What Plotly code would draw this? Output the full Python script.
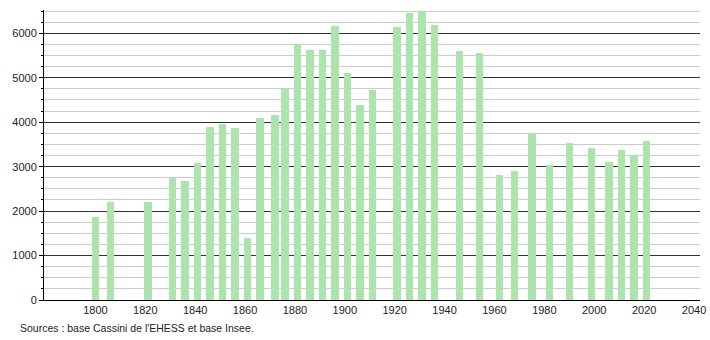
import plotly.graph_objects as go

years = [1800, 1806, 1821, 1831, 1836, 1841, 1846, 1851, 1856, 1861, 1866, 1872, 1876,
         1881, 1886, 1891, 1896, 1901, 1906, 1911, 1921, 1926, 1931, 1936, 1946, 1954,
         1962, 1968, 1975, 1982, 1990, 1999, 2006, 2011, 2016, 2021]
population = [1868, 2205, 2205, 2738, 2678, 3090, 3900, 3960, 3878, 1403, 4096, 4163, 4741,
              5761, 5626, 5626, 6166, 5116, 4388, 4733, 6151, 6451, 6505, 6196, 5604, 5559,
              2813, 2903, 3736, 3038, 3533, 3421, 3106, 3376, 3263, 3578]
x_ticks = [1800, 1820, 1840, 1860, 1880, 1900, 1920, 1940, 1960, 1980, 2000, 2020, 2040]
source_text = "Sources : base Cassini de l'EHESS et base Insee."

fig = go.Figure()
fig.add_trace(go.Bar(x=years, y=population, width=3.0,
                     marker=dict(color="#ade3ad", line=dict(width=0)),
                     hoverinfo="x+y"))

fig.update_layout(
    width=710, height=340,
    margin=dict(l=44, r=10, t=10, b=40, autoexpand=False),
    paper_bgcolor="white", plot_bgcolor="white",
    font=dict(family="Liberation Sans, Arial, sans-serif", size=11, color="#222"),
    showlegend=False,
    bargap=0,
    xaxis=dict(range=[1779.4, 2042.4], tickvals=x_ticks, ticks="", showgrid=False,
               showline=True, linecolor="black", linewidth=1, zeroline=False,
               automargin=False, tickfont=dict(size=11, color="#222")),
    yaxis=dict(range=[0, 6524], dtick=1000, tick0=0, showgrid=True, gridcolor="#333",
               gridwidth=1, ticks="outside", ticklen=4, tickcolor="black",
               showline=True, linecolor="black", linewidth=1, zeroline=False,
               automargin=False, tickfont=dict(size=11, color="#222"),
               minor=dict(dtick=250, tick0=0, showgrid=True, gridcolor="#cccccc",
                          gridwidth=1, ticks="outside", ticklen=2, tickcolor="black")),
    annotations=[dict(text=source_text, xref="paper", yref="paper",
                      x=-26/656, y=-28/290, xanchor="left", yanchor="middle",
                      showarrow=False, font=dict(size=10.5, color="#222"))],
)

fig.write_html("out.html")
